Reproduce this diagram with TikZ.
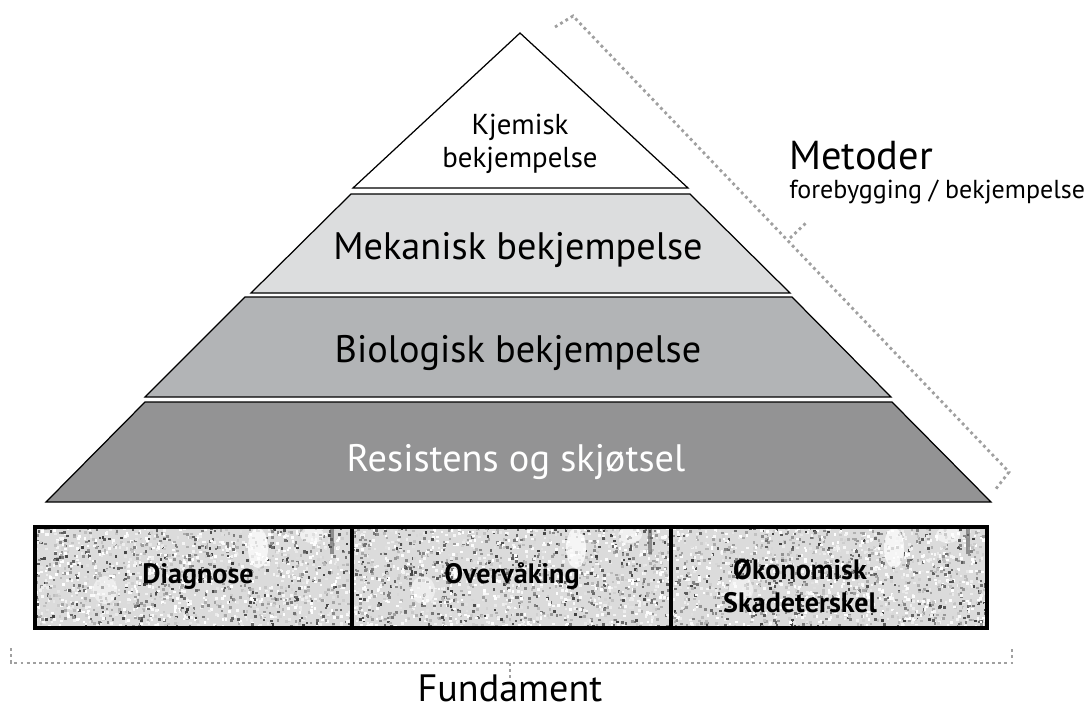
\documentclass[tikz,border=0pt]{standalone}
\usepackage{fontspec}
\setmainfont{PT Sans}
\usetikzlibrary{calc}

\definecolor{tiertop}{RGB}{255,255,255}
\definecolor{tiermek}{RGB}{220,221,222}
\definecolor{tierbio}{RGB}{178,180,182}
\definecolor{tierres}{RGB}{147,147,148}
\definecolor{dotgray}{RGB}{160,160,160}

\begin{document}
\begin{tikzpicture}[x=0.02cm,y=-0.02cm,
    tier/.style={draw=black,line width=0.7pt},
    bracket/.style={draw=dotgray,line width=1.6pt,dash pattern=on 1.6pt off 1.9pt},
    fundbox/.style={draw=black,line width=1.8pt},
    boxtext/.style={font=\fontsize{16}{18.5}\selectfont\bfseries,align=center}]
\useasboundingbox (0,0) rectangle (1089,711);

% pyramid
\filldraw[tier,fill=tiertop] (520,33) -- (688,188) -- (353,188) -- cycle;
\filldraw[tier,fill=tiermek] (351,194) -- (690,194) -- (790,293) -- (251,293) -- cycle;
\filldraw[tier,fill=tierbio] (245,297) -- (792,297) -- (891,397) -- (145,397) -- cycle;
\filldraw[tier,fill=tierres] (145,402) -- (892,402) -- (991,502) -- (46,502) -- cycle;

\begin{scope}[every node/.style={anchor=center,inner sep=0pt}]
    \node[font=\fontsize{16.4}{19}\selectfont,align=center] (kjemisk) at (520,144) {Kjemisk\\bekjempelse};
    \node[font=\fontsize{21.8}{24}\selectfont] (mekanisk) at (518,250) {Mekanisk bekjempelse};
    \node[font=\fontsize{21.8}{24}\selectfont] (biologisk) at (518,353) {Biologisk bekjempelse};
    \node[font=\fontsize{21.8}{24}\selectfont,text=white] (resistens) at (516,462) {Resistens og skjøtsel};
\end{scope}

% fundament boxes
\begin{scope}
    \clip (35,527) rectangle (987,628);
    \fill[black!14] (35,527) rectangle (987,628);
    \pgfmathsetseed{17}
    \foreach \k in {1,...,5200}{
        \pgfmathsetmacro{\px}{35+952*rnd}
        \pgfmathsetmacro{\py}{527+101*rnd}
        \pgfmathsetmacro{\rr}{rnd}
        \pgfmathsetmacro{\sh}{75*\rr*\rr}
        \fill[black!\sh] (\px,\py) rectangle ++(2.6,2.6);
    }
    \foreach \o in {0,318,636}{
        \fill[white,opacity=0.75] (258+\o,548) ellipse (10 and 20);
        \fill[white,opacity=0.6] (312+\o,535) ellipse (12 and 8);
        \fill[white,opacity=0.5] (105+\o,590) ellipse (12 and 14);
        \fill[black!65,opacity=0.6] (330+\o,528) rectangle ++(4,26);
    }
\end{scope}
\draw[fundbox] (35,527) rectangle (987,628);
\draw[fundbox] (352,527) -- (352,628);
\draw[fundbox] (671,527) -- (671,628);

\node[boxtext] (diagnose) at (198,576) {Diagnose};
\node[boxtext] (overvaaking) at (512,576) {Overvåking};
\node[boxtext] (skade) at (800,586) {Økonomisk\\Skadeterskel};

% brackets
\draw[bracket] (555,27) -- (573,16) -- (1009,472) -- (995,490);
\draw[bracket] (790,238) -- (806,223);
\draw[bracket] (11,648) -- (11,663) -- (1012,663) -- (1012,648);
\draw[bracket] (510,663) -- (510,680);

\node[font=\fontsize{23}{26}\selectfont,anchor=west,inner sep=0pt] (metoder) at (789,156) {Metoder};
\node[font=\fontsize{14.8}{17}\selectfont,anchor=west,inner sep=0pt] (metsub) at (789,192) {forebygging / bekjempelse};
\node[font=\fontsize{21.7}{24}\selectfont,inner sep=0pt] (fundament) at (510,688) {Fundament};
\end{tikzpicture}
\end{document}
